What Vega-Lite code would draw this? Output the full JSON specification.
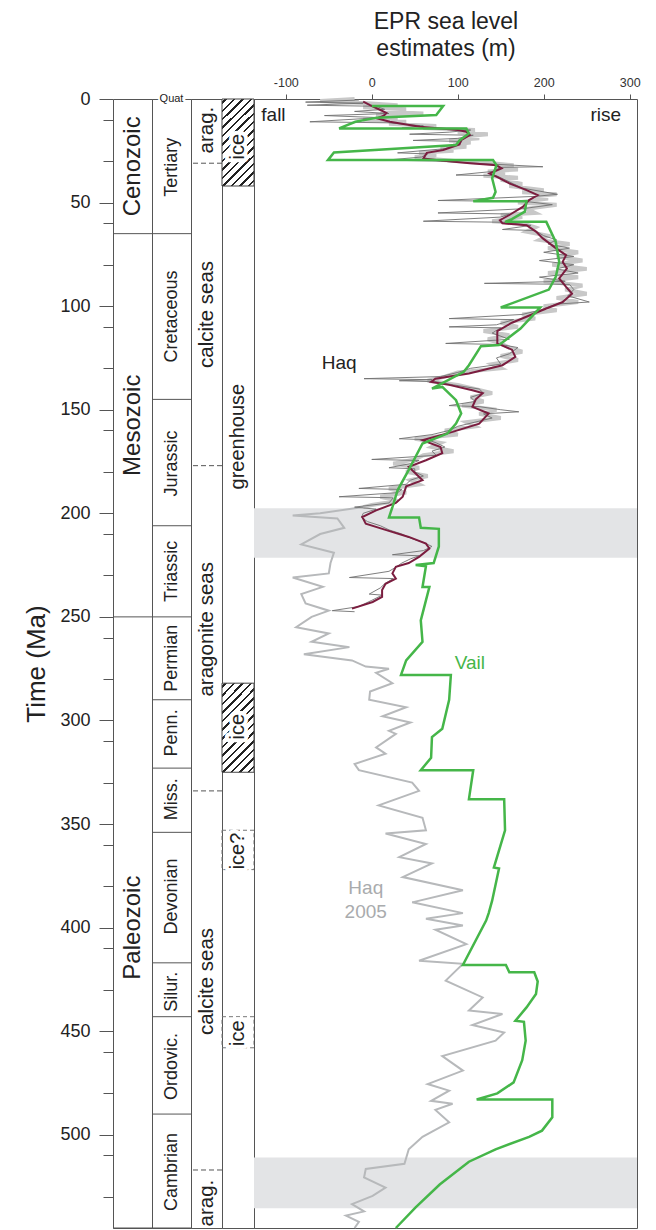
{
"$schema":"https://vega.github.io/schema/vega-lite/v6.json",
"background":"white",
"padding":{"left":23,"top":9,"right":0,"bottom":0},
"spacing":0,
"bounds":"flush",
"config":{"font":"Liberation Sans","view":{"stroke":"#555","strokeWidth":1},"concat":{"spacing":0}},
"datasets":{
"eras":[{"name":"Cenozoic","start":0,"end":65,"labelAt":32.5},{"name":"Mesozoic","start":65,"end":250,"labelAt":157.5},{"name":"Paleozoic","start":250,"end":545,"labelAt":400}],
"periods":[{"name":"Tertiary","start":1.8,"end":65,"labelAt":33},{"name":"Cretaceous","start":65,"end":145,"labelAt":105},{"name":"Jurassic","start":145,"end":206,"labelAt":176},{"name":"Triassic","start":206,"end":250,"labelAt":228},{"name":"Permian","start":250,"end":290,"labelAt":270},{"name":"Penn.","start":290,"end":323,"labelAt":306},{"name":"Miss.","start":323,"end":354,"labelAt":338},{"name":"Devonian","start":354,"end":417,"labelAt":385},{"name":"Silur.","start":417,"end":443,"labelAt":431},{"name":"Ordovic.","start":443,"end":490,"labelAt":467},{"name":"Cambrian","start":490,"end":545,"labelAt":518}],
"quat":[{"name":"Quat","t":0}],
"chem":[{"name":"arag.","start":0,"end":31,"labelAt":15},{"name":"calcite seas","start":31,"end":177,"labelAt":104},{"name":"aragonite seas","start":177,"end":334,"labelAt":256},{"name":"calcite seas","start":334,"end":517,"labelAt":426},{"name":"arag.","start":517,"end":545,"labelAt":533}],
"hatch":[{"start":0,"end":42},{"start":282,"end":325}],
"dashbox":[{"start":353,"end":372},{"start":443,"end":458}],
"climLabels":[{"name":"ice","labelAt":23},{"name":"greenhouse","labelAt":163},{"name":"ice","labelAt":303},{"name":"ice?","labelAt":363},{"name":"ice","labelAt":451}],
"bands":[{"start":197.5,"end":221.5},{"start":511,"end":535.5}],
"notes":[{"label":"fall","series":"axis","m":-128.5,"t":7.7},{"label":"rise","series":"axis","m":290,"t":7.7},{"label":"Haq","series":"Haq","m":-38,"t":127.4},{"label":"Vail","series":"Vail","m":114,"t":272.3},{"label":"Haq","series":"Haq 2005","m":-7,"t":380.9},{"label":"2005","series":"Haq 2005","m":-7,"t":392.4}],
"vail":[{"t":3.4,"m":0},{"t":3.4,"m":83},{"t":7.7,"m":75},{"t":9,"m":6},{"t":11,"m":-19},{"t":14.2,"m":-38},{"t":14.2,"m":110},{"t":16.6,"m":113},{"t":20,"m":102},{"t":22.2,"m":98},{"t":25.8,"m":-44},{"t":29.5,"m":-51},{"t":29.5,"m":141},{"t":31.9,"m":145},{"t":38.3,"m":140},{"t":44.8,"m":144},{"t":47.7,"m":141},{"t":49.3,"m":118},{"t":49.3,"m":180},{"t":54.4,"m":178},{"t":58,"m":163},{"t":59.3,"m":155},{"t":59.3,"m":203},{"t":69,"m":214},{"t":78.6,"m":218},{"t":85.8,"m":214},{"t":92,"m":206},{"t":100.6,"m":150},{"t":100.6,"m":196},{"t":110.8,"m":173},{"t":118.8,"m":148},{"t":119.3,"m":127},{"t":128.5,"m":113},{"t":131.7,"m":107},{"t":139.8,"m":70},{"t":139,"m":82},{"t":145.4,"m":98},{"t":151.8,"m":104},{"t":156.7,"m":98},{"t":161.5,"m":88},{"t":166.3,"m":59},{"t":179,"m":43},{"t":188.9,"m":30},{"t":197,"m":24},{"t":202,"m":20},{"t":202,"m":55},{"t":207,"m":57},{"t":207.5,"m":78},{"t":216,"m":78},{"t":224,"m":72},{"t":225,"m":51},{"t":225.5,"m":63},{"t":235.6,"m":59},{"t":235.6,"m":67},{"t":242,"m":63},{"t":251.7,"m":57},{"t":262,"m":59},{"t":271,"m":40},{"t":278,"m":34},{"t":278,"m":92},{"t":290,"m":90},{"t":304,"m":82},{"t":308,"m":70},{"t":318,"m":69},{"t":324,"m":57},{"t":324,"m":118},{"t":338,"m":113},{"t":338,"m":154},{"t":353,"m":155},{"t":371,"m":142},{"t":371.5,"m":148},{"t":387,"m":140},{"t":393,"m":136},{"t":396.6,"m":133},{"t":418,"m":106},{"t":418,"m":156},{"t":421.6,"m":160},{"t":421.6,"m":189},{"t":426,"m":193},{"t":432,"m":191},{"t":438.5,"m":180},{"t":445,"m":167},{"t":445.5,"m":177},{"t":454.6,"m":179},{"t":464,"m":175},{"t":474.7,"m":165},{"t":480,"m":146},{"t":483,"m":122},{"t":483,"m":210},{"t":491.6,"m":210},{"t":498,"m":198},{"t":501,"m":183},{"t":507,"m":144},{"t":513,"m":113},{"t":524,"m":79},{"t":535,"m":51},{"t":545,"m":28}],
"haqSmooth":[{"t":1.3,"m":-10},{"t":3,"m":-2},{"t":5.3,"m":10},{"t":6.8,"m":17},{"t":8,"m":14},{"t":9.3,"m":6},{"t":11,"m":21},{"t":13.4,"m":56},{"t":14.2,"m":80},{"t":15,"m":100},{"t":15.8,"m":110},{"t":17.4,"m":114},{"t":19.8,"m":104},{"t":22,"m":102},{"t":24.6,"m":83},{"t":26,"m":64},{"t":28.7,"m":60},{"t":29.5,"m":75},{"t":31,"m":114},{"t":32,"m":145},{"t":33.5,"m":151},{"t":36,"m":137},{"t":37.5,"m":145},{"t":40.7,"m":160},{"t":44,"m":180},{"t":46.4,"m":193},{"t":48.8,"m":183},{"t":52,"m":176},{"t":56,"m":160},{"t":58.5,"m":149},{"t":60,"m":152},{"t":60.9,"m":180},{"t":64,"m":191},{"t":67.3,"m":199},{"t":72,"m":214},{"t":75.4,"m":226},{"t":78.6,"m":222},{"t":81.8,"m":227},{"t":86.6,"m":218},{"t":90.7,"m":226},{"t":94,"m":233},{"t":98,"m":222},{"t":102,"m":198},{"t":108,"m":163},{"t":112,"m":146},{"t":118,"m":146},{"t":121,"m":163},{"t":124.5,"m":167},{"t":128.5,"m":152},{"t":132.5,"m":113},{"t":135,"m":74},{"t":136.6,"m":69},{"t":138,"m":90},{"t":140.6,"m":117},{"t":142,"m":129},{"t":145,"m":121},{"t":148.6,"m":117},{"t":151.8,"m":136},{"t":156.7,"m":125},{"t":160.7,"m":94},{"t":164.7,"m":59},{"t":166,"m":67},{"t":168,"m":80},{"t":171,"m":82},{"t":174.4,"m":63},{"t":177.6,"m":43},{"t":180.8,"m":51},{"t":184,"m":59},{"t":187,"m":40},{"t":192,"m":36},{"t":195,"m":28},{"t":198.6,"m":5},{"t":201.8,"m":-11},{"t":205,"m":-7},{"t":208,"m":16},{"t":211.4,"m":43},{"t":214.6,"m":63},{"t":217,"m":67},{"t":221,"m":55},{"t":224,"m":43},{"t":225.8,"m":28},{"t":229,"m":24},{"t":231.5,"m":28},{"t":234,"m":16},{"t":237,"m":12},{"t":240.4,"m":12},{"t":242.8,"m":1},{"t":246,"m":-23}],
"haqHigh":[{"t":0,"m":-20},{"t":1,"m":-60},{"t":2,"m":-5},{"t":3,"m":30},{"t":4,"m":-10},{"t":5,"m":40},{"t":6,"m":10},{"t":7,"m":60},{"t":8,"m":5},{"t":9,"m":30},{"t":10,"m":-10},{"t":11,"m":40},{"t":12,"m":20},{"t":13,"m":75},{"t":14,"m":60},{"t":15,"m":120},{"t":16,"m":100},{"t":17,"m":135},{"t":18,"m":110},{"t":19,"m":125},{"t":20,"m":90},{"t":21,"m":115},{"t":22,"m":95},{"t":23,"m":110},{"t":24,"m":80},{"t":25,"m":95},{"t":26,"m":55},{"t":27,"m":75},{"t":28,"m":50},{"t":29,"m":70},{"t":30,"m":100},{"t":31,"m":140},{"t":32,"m":165},{"t":33,"m":145},{"t":34,"m":170},{"t":35,"m":135},{"t":36,"m":155},{"t":37,"m":130},{"t":38,"m":170},{"t":39,"m":150},{"t":41,"m":175},{"t":42,"m":160},{"t":44,"m":200},{"t":45,"m":175},{"t":46,"m":215},{"t":47,"m":190},{"t":48,"m":205},{"t":50,"m":170},{"t":51,"m":215},{"t":53,"m":180},{"t":55,"m":190},{"t":56,"m":150},{"t":57,"m":175},{"t":59,"m":140},{"t":60,"m":175},{"t":62,"m":190},{"t":64,"m":180},{"t":66,"m":205},{"t":68,"m":195},{"t":70,"m":230},{"t":72,"m":205},{"t":74,"m":240},{"t":76,"m":215},{"t":78,"m":245},{"t":80,"m":210},{"t":82,"m":250},{"t":84,"m":205},{"t":86,"m":240},{"t":88,"m":200},{"t":90,"m":245},{"t":92,"m":225},{"t":94,"m":250},{"t":96,"m":215},{"t":98,"m":240},{"t":100,"m":200},{"t":102,"m":215},{"t":104,"m":175},{"t":106,"m":190},{"t":108,"m":150},{"t":110,"m":170},{"t":112,"m":130},{"t":114,"m":160},{"t":116,"m":135},{"t":118,"m":150},{"t":120,"m":160},{"t":122,"m":175},{"t":124,"m":150},{"t":126,"m":170},{"t":128,"m":140},{"t":130,"m":150},{"t":132,"m":100},{"t":134,"m":85},{"t":136,"m":65},{"t":138,"m":100},{"t":140,"m":120},{"t":142,"m":140},{"t":144,"m":115},{"t":146,"m":130},{"t":148,"m":105},{"t":150,"m":145},{"t":152,"m":125},{"t":154,"m":150},{"t":156,"m":110},{"t":158,"m":120},{"t":160,"m":85},{"t":162,"m":100},{"t":164,"m":50},{"t":166,"m":80},{"t":168,"m":70},{"t":170,"m":95},{"t":172,"m":60},{"t":174,"m":50},{"t":176,"m":25},{"t":178,"m":55},{"t":180,"m":40},{"t":182,"m":65},{"t":184,"m":45},{"t":186,"m":55},{"t":188,"m":20},{"t":190,"m":40},{"t":192,"m":10},{"t":194,"m":30},{"t":196,"m":0},{"t":197,"m":-10}],
"haq2005":[{"t":197,"m":-10},{"t":200,"m":-60},{"t":201,"m":-92},{"t":202.5,"m":-40},{"t":207,"m":-32},{"t":210,"m":-60},{"t":215,"m":-82},{"t":219,"m":-44},{"t":224,"m":-48},{"t":229,"m":-50},{"t":231,"m":-92},{"t":235.5,"m":-57},{"t":239,"m":-82},{"t":243.5,"m":-77},{"t":247,"m":-50},{"t":250,"m":-70},{"t":255,"m":-88},{"t":258,"m":-50},{"t":262,"m":-70},{"t":264.6,"m":-26},{"t":268,"m":-79},{"t":271,"m":-23},{"t":274,"m":-7},{"t":275,"m":20},{"t":277,"m":5},{"t":282,"m":24},{"t":286,"m":-2},{"t":290,"m":-3},{"t":293.6,"m":40},{"t":298,"m":12.5},{"t":301,"m":45},{"t":305,"m":20},{"t":306.5,"m":28},{"t":313,"m":5},{"t":316,"m":16},{"t":321,"m":-20},{"t":324,"m":-15},{"t":330,"m":47},{"t":334,"m":55},{"t":341,"m":8},{"t":347,"m":59},{"t":353,"m":63},{"t":354.6,"m":16},{"t":359.6,"m":63},{"t":366,"m":32},{"t":369,"m":70},{"t":375.6,"m":36},{"t":382,"m":106},{"t":387.8,"m":47},{"t":393,"m":106},{"t":395.7,"m":63},{"t":399,"m":106},{"t":401,"m":74},{"t":408,"m":110},{"t":416,"m":55},{"t":417.5,"m":106},{"t":425.6,"m":86},{"t":433.7,"m":129},{"t":440,"m":113},{"t":441.7,"m":152},{"t":447,"m":117},{"t":450.6,"m":154},{"t":454.6,"m":144},{"t":462,"m":82},{"t":469,"m":106},{"t":475.5,"m":65},{"t":478.7,"m":90},{"t":483.6,"m":69},{"t":485,"m":94},{"t":488,"m":74},{"t":494,"m":90},{"t":501,"m":59},{"t":507,"m":43},{"t":514,"m":38},{"t":516.5,"m":-7},{"t":520.6,"m":-9},{"t":525.5,"m":16},{"t":529.5,"m":1},{"t":533.5,"m":-23},{"t":537,"m":-9},{"t":539,"m":-30},{"t":542,"m":-15},{"t":545,"m":-20}],
"haq87":[{"t":0.5,"m":-15},{"t":1.5,"m":-77},{"t":2,"m":-10},{"t":3,"m":-75},{"t":3.5,"m":5},{"t":5,"m":15},{"t":6,"m":-20},{"t":7,"m":20},{"t":8,"m":-55},{"t":9,"m":10},{"t":11,"m":-72},{"t":11.5,"m":20},{"t":13,"m":60},{"t":14,"m":35},{"t":15,"m":115},{"t":16,"m":90},{"t":17,"m":44},{"t":17.5,"m":118},{"t":19,"m":100},{"t":20,"m":48},{"t":20.5,"m":105},{"t":22,"m":100},{"t":24,"m":85},{"t":26,"m":30},{"t":26.5,"m":65},{"t":28,"m":58},{"t":29.5,"m":17},{"t":30,"m":80},{"t":31,"m":120},{"t":32.7,"m":199},{"t":33,"m":150},{"t":35,"m":140},{"t":36.7,"m":98},{"t":37,"m":145},{"t":39,"m":155},{"t":41,"m":165},{"t":43,"m":175},{"t":46,"m":216},{"t":47,"m":190},{"t":49,"m":77},{"t":49.5,"m":180},{"t":51,"m":210},{"t":53,"m":175},{"t":55,"m":77},{"t":55.5,"m":160},{"t":57,"m":150},{"t":59,"m":60},{"t":59.5,"m":155},{"t":61,"m":185},{"t":63,"m":152},{"t":63.5,"m":190},{"t":66,"m":200},{"t":68,"m":215},{"t":70,"m":205},{"t":72,"m":230},{"t":74,"m":200},{"t":76,"m":235},{"t":78,"m":195},{"t":80,"m":235},{"t":82,"m":215},{"t":84,"m":240},{"t":86,"m":195},{"t":88,"m":225},{"t":89,"m":131},{"t":89.5,"m":230},{"t":92,"m":235},{"t":95,"m":228},{"t":98,"m":253},{"t":99,"m":215},{"t":102,"m":195},{"t":104,"m":175},{"t":106,"m":90},{"t":106.5,"m":165},{"t":109,"m":145},{"t":110,"m":90},{"t":110.5,"m":150},{"t":113,"m":140},{"t":116,"m":160},{"t":118,"m":86},{"t":118.5,"m":150},{"t":120,"m":170},{"t":123,"m":160},{"t":125,"m":145},{"t":128,"m":150},{"t":130,"m":115},{"t":132,"m":100},{"t":134,"m":80},{"t":135,"m":-9},{"t":135.5,"m":70},{"t":136,"m":32},{"t":136.5,"m":75},{"t":138,"m":95},{"t":140,"m":125},{"t":142,"m":130},{"t":144,"m":115},{"t":146,"m":120},{"t":148,"m":90},{"t":148.5,"m":125},{"t":150,"m":150},{"t":151,"m":171},{"t":152,"m":130},{"t":154,"m":140},{"t":156,"m":120},{"t":158,"m":100},{"t":160,"m":90},{"t":162,"m":70},{"t":164,"m":32},{"t":164.5,"m":65},{"t":166,"m":75},{"t":168,"m":85},{"t":170,"m":70},{"t":172,"m":75},{"t":174,"m":0},{"t":174.5,"m":55},{"t":176,"m":45},{"t":178,"m":20},{"t":178.5,"m":50},{"t":180,"m":50},{"t":182,"m":60},{"t":184,"m":45},{"t":186,"m":40},{"t":188,"m":-15},{"t":188.5,"m":35},{"t":190,"m":30},{"t":192,"m":-38},{"t":192.5,"m":25},{"t":195,"m":20},{"t":197,"m":-20},{"t":198,"m":5},{"t":200,"m":-10},{"t":202,"m":-12},{"t":204,"m":-5},{"t":206,"m":10},{"t":208,"m":20},{"t":210,"m":35},{"t":212,"m":45},{"t":214,"m":60},{"t":216,"m":70},{"t":218,"m":60},{"t":220,"m":24},{"t":220.5,"m":55},{"t":222,"m":45},{"t":224,"m":35},{"t":226,"m":28},{"t":228,"m":20},{"t":231,"m":-26},{"t":231.5,"m":25},{"t":234,"m":15},{"t":236,"m":10},{"t":239,"m":-3},{"t":239.5,"m":12},{"t":242,"m":0},{"t":245,"m":-15},{"t":247,"m":-46},{"t":247.5,"m":-20}]
},
"hconcat":[
{"width":39,"height":1129,"data":{"name":"eras"},
 "layer":[
  {"mark":{"type":"rule","color":"#555","strokeWidth":1},
   "encoding":{"y":{"field":"end","type":"quantitative","scale":{"domain":[0,545],"reverse":true,"nice":false,"zero":false},
    "axis":{"orient":"left","values":[0,50,100,150,200,250,300,350,400,450,500],
     "tickSize":14,"tickColor":"#555","tickWidth":1,"domain":false,"grid":false,
     "labelFontSize":18,"labelColor":"#222","labelPadding":9,
     "title":"Time (Ma)","titleFontSize":26,"titleFontWeight":"normal","titleColor":"#222","titlePadding":10}}}},
  {"mark":{"type":"text","angle":270,"fontSize":24,"color":"#222","baseline":"middle","align":"center"},
   "encoding":{"y":{"field":"labelAt","type":"quantitative"},"text":{"field":"name"}}}
 ]},
{"width":39,"height":1129,
 "layer":[
  {"data":{"name":"periods"},"mark":{"type":"rule","color":"#555","strokeWidth":1},
   "encoding":{"y":{"field":"end","type":"quantitative","scale":{"domain":[0,545],"reverse":true,"nice":false,"zero":false},
    "axis":{"orient":"left","offset":39,"values":[10,20,30,40,60,70,80,90,110,120,130,140,160,170,180,190,210,220,230,240,260,270,280,290,310,320,330,340,360,370,380,390,410,420,430,440,460,470,480,490,510,520,530,540],
     "tickSize":10,"tickColor":"#555","tickWidth":1,"domain":false,"grid":false,"labels":false,"title":null}}}},
  {"data":{"name":"periods"},"mark":{"type":"text","angle":270,"fontSize":18,"color":"#222","baseline":"middle","align":"center"},
   "encoding":{"y":{"field":"labelAt","type":"quantitative"},"text":{"field":"name"}}},
  {"data":{"name":"quat"},"mark":{"type":"text","fontSize":11,"color":"white","stroke":"white","strokeWidth":4,"baseline":"middle","align":"center"},
   "encoding":{"y":{"field":"t","type":"quantitative"},"text":{"field":"name"}}},
  {"data":{"name":"quat"},"mark":{"type":"text","fontSize":11,"color":"#222","baseline":"middle","align":"center"},
   "encoding":{"y":{"field":"t","type":"quantitative"},"text":{"field":"name"}}}
 ]},
{"width":31,"height":1129,"data":{"name":"chem"},
 "layer":[
  {"transform":[{"filter":"datum.end < 545"}],"mark":{"type":"rule","color":"#555","strokeWidth":1,"strokeDash":[5,3]},
   "encoding":{"y":{"field":"end","type":"quantitative","scale":{"domain":[0,545],"reverse":true,"nice":false,"zero":false},"axis":null}}},
  {"mark":{"type":"text","angle":270,"fontSize":20.5,"color":"#222","baseline":"middle","align":"center"},
   "encoding":{"y":{"field":"labelAt","type":"quantitative","scale":{"domain":[0,545],"reverse":true,"nice":false,"zero":false},"axis":null},"text":{"field":"name"}}}
 ]},
{"width":32,"height":1129,
 "layer":[
  {"data":{"name":"hatch"},"mark":{"type":"rect","stroke":"#444","strokeWidth":1,
    "fill":{"gradient":"linear","x1":0,"y1":0,"x2":1,"y2":2.75,"stops":[
     {"offset":0,"color":"#ffffff"},
     {"offset":0.01,"color":"#ffffff"},{"offset":0.01,"color":"#222222"},{"offset":0.019,"color":"#222222"},{"offset":0.019,"color":"#ffffff"},
     {"offset":0.041,"color":"#ffffff"},{"offset":0.041,"color":"#222222"},{"offset":0.05,"color":"#222222"},{"offset":0.05,"color":"#ffffff"},
     {"offset":0.072,"color":"#ffffff"},{"offset":0.072,"color":"#222222"},{"offset":0.081,"color":"#222222"},{"offset":0.081,"color":"#ffffff"},
     {"offset":0.103,"color":"#ffffff"},{"offset":0.103,"color":"#222222"},{"offset":0.112,"color":"#222222"},{"offset":0.112,"color":"#ffffff"},
     {"offset":0.134,"color":"#ffffff"},{"offset":0.134,"color":"#222222"},{"offset":0.143,"color":"#222222"},{"offset":0.143,"color":"#ffffff"},
     {"offset":0.165,"color":"#ffffff"},{"offset":0.165,"color":"#222222"},{"offset":0.174,"color":"#222222"},{"offset":0.174,"color":"#ffffff"},
     {"offset":0.196,"color":"#ffffff"},{"offset":0.196,"color":"#222222"},{"offset":0.205,"color":"#222222"},{"offset":0.205,"color":"#ffffff"},
     {"offset":0.227,"color":"#ffffff"},{"offset":0.227,"color":"#222222"},{"offset":0.236,"color":"#222222"},{"offset":0.236,"color":"#ffffff"},
     {"offset":0.258,"color":"#ffffff"},{"offset":0.258,"color":"#222222"},{"offset":0.267,"color":"#222222"},{"offset":0.267,"color":"#ffffff"},
     {"offset":0.289,"color":"#ffffff"},{"offset":0.289,"color":"#222222"},{"offset":0.298,"color":"#222222"},{"offset":0.298,"color":"#ffffff"},
     {"offset":0.32,"color":"#ffffff"},{"offset":0.32,"color":"#222222"},{"offset":0.329,"color":"#222222"},{"offset":0.329,"color":"#ffffff"},
     {"offset":0.351,"color":"#ffffff"},{"offset":0.351,"color":"#222222"},{"offset":0.36,"color":"#222222"},{"offset":0.36,"color":"#ffffff"},
     {"offset":0.382,"color":"#ffffff"},{"offset":0.382,"color":"#222222"},{"offset":0.391,"color":"#222222"},{"offset":0.391,"color":"#ffffff"},
     {"offset":0.413,"color":"#ffffff"},{"offset":0.413,"color":"#222222"},{"offset":0.422,"color":"#222222"},{"offset":0.422,"color":"#ffffff"},
     {"offset":0.444,"color":"#ffffff"},{"offset":0.444,"color":"#222222"},{"offset":0.453,"color":"#222222"},{"offset":0.453,"color":"#ffffff"},
     {"offset":1,"color":"#ffffff"}]}},
   "encoding":{"y":{"field":"start","type":"quantitative","scale":{"domain":[0,545],"reverse":true,"nice":false,"zero":false},"axis":null},"y2":{"field":"end"}}},
  {"data":{"name":"dashbox"},"mark":{"type":"rect","fill":null,"fillOpacity":0,"stroke":"#777","strokeWidth":1,"strokeDash":[4,3]},
   "encoding":{"y":{"field":"start","type":"quantitative","scale":{"domain":[0,545],"reverse":true,"nice":false,"zero":false},"axis":null},"y2":{"field":"end"}}},
  {"data":{"name":"climLabels"},"mark":{"type":"text","angle":270,"fontSize":20,"color":"white","stroke":"white","strokeWidth":8,"strokeJoin":"round","baseline":"middle","align":"center"},
   "encoding":{"y":{"field":"labelAt","type":"quantitative","scale":{"domain":[0,545],"reverse":true,"nice":false,"zero":false},"axis":null},"text":{"field":"name"}}},
  {"data":{"name":"climLabels"},"mark":{"type":"text","angle":270,"fontSize":20,"color":"#222","baseline":"middle","align":"center"},
   "encoding":{"y":{"field":"labelAt","type":"quantitative","scale":{"domain":[0,545],"reverse":true,"nice":false,"zero":false},"axis":null},"text":{"field":"name"}}}
 ]},
{"width":383,"height":1129,
 "layer":[
  {"data":{"name":"bands"},"mark":{"type":"rect","color":"#e3e4e6"},
   "encoding":{"y":{"field":"start","type":"quantitative","scale":{"domain":[0,545],"reverse":true,"nice":false,"zero":false},"axis":null},"y2":{"field":"end"}}},
  {"data":{"name":"haqHigh"},"mark":{"type":"line","color":"#c8c8c8","strokeWidth":4},
   "encoding":{"x":{"field":"m","type":"quantitative","scale":{"domain":[-137,308.5],"nice":false,"zero":false},
     "axis":{"orient":"top","values":[-100,0,100,200,300],"labelExpr":"'' + datum.value","tickSize":5,"tickColor":"#555","domain":false,"grid":false,"labelFontSize":12.5,"labelColor":"#333","labelPadding":5,"labelFlush":false,
      "title":["EPR sea level","estimates (m)"],"titleFontSize":23,"titleFontWeight":"normal","titleColor":"#222","titlePadding":16,"titleLineHeight":27}},
    "y":{"field":"t","type":"quantitative","scale":{"domain":[0,545],"reverse":true,"nice":false,"zero":false},"axis":null},"order":{"value":null}}},
  {"data":{"name":"haq2005"},"mark":{"type":"line","color":"#b7b9bb","strokeWidth":2},
   "encoding":{"x":{"field":"m","type":"quantitative"},"y":{"field":"t","type":"quantitative"},"order":{"value":null}}},
  {"data":{"name":"haq87"},"mark":{"type":"line","color":"#707070","strokeWidth":0.9},
   "encoding":{"x":{"field":"m","type":"quantitative"},"y":{"field":"t","type":"quantitative"},"order":{"value":null}}},
  {"data":{"name":"haqSmooth"},"mark":{"type":"line","color":"#7b1d3f","strokeWidth":2},
   "encoding":{"x":{"field":"m","type":"quantitative"},"y":{"field":"t","type":"quantitative"},"order":{"value":null}}},
  {"data":{"name":"vail"},"mark":{"type":"line","color":"#45b649","strokeWidth":2.5},
   "encoding":{"x":{"field":"m","type":"quantitative"},"y":{"field":"t","type":"quantitative"},"order":{"value":null}}},
  {"data":{"name":"notes"},"transform":[{"filter":"datum.label === 'fall'"}],"mark":{"type":"text","align":"left","baseline":"middle","fontSize":19,"color":"#222"},
   "encoding":{"x":{"field":"m","type":"quantitative"},"y":{"field":"t","type":"quantitative"},"text":{"field":"label"}}},
  {"data":{"name":"notes"},"transform":[{"filter":"datum.label === 'rise'"}],"mark":{"type":"text","align":"right","baseline":"middle","fontSize":19,"color":"#222"},
   "encoding":{"x":{"field":"m","type":"quantitative"},"y":{"field":"t","type":"quantitative"},"text":{"field":"label"}}},
  {"data":{"name":"notes"},"transform":[{"filter":"datum.label !== 'fall' && datum.label !== 'rise'"}],"mark":{"type":"text","align":"center","baseline":"middle","fontSize":19},
   "encoding":{"x":{"field":"m","type":"quantitative"},"y":{"field":"t","type":"quantitative"},"text":{"field":"label"},
    "color":{"field":"series","type":"nominal","scale":{"domain":["Haq","Vail","Haq 2005"],"range":["#222222","#45b649","#a9abad"]},"legend":null}}}
 ]}
]
}
